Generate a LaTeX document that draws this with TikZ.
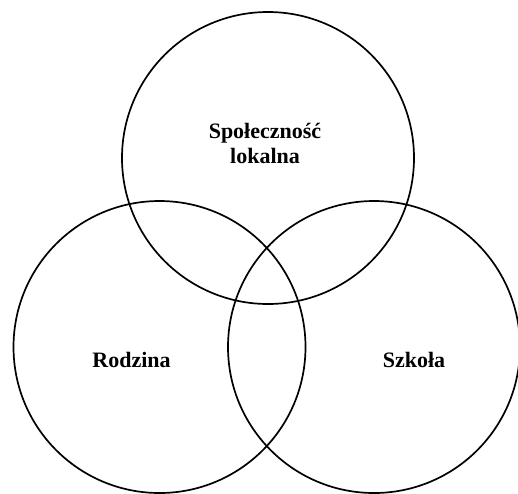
\documentclass[tikz,border=0pt]{standalone}
\usepackage{fontspec}
\setmainfont{Liberation Serif}
\begin{document}
\begin{tikzpicture}[x=1pt,y=-1pt,
  ring/.style={draw=black,line width=1.7pt,circle,minimum size=292pt,inner sep=0pt},
  lbl/.style={font=\fontsize{22}{25}\selectfont\bfseries,align=center}]
\useasboundingbox (0,0) rectangle (518,493);
\node[ring] (top) at (268,158) {};
\node[ring] (left) at (159.5,347) {};
\node[ring] (right) at (374,347) {};
\node[lbl] (tl) at (265,143) {Społeczność\\lokalna};
\node[lbl] (ll) at (131.5,360) {Rodzina};
\node[lbl] (rl) at (414,360) {Szkoła};
\end{tikzpicture}
\end{document}
